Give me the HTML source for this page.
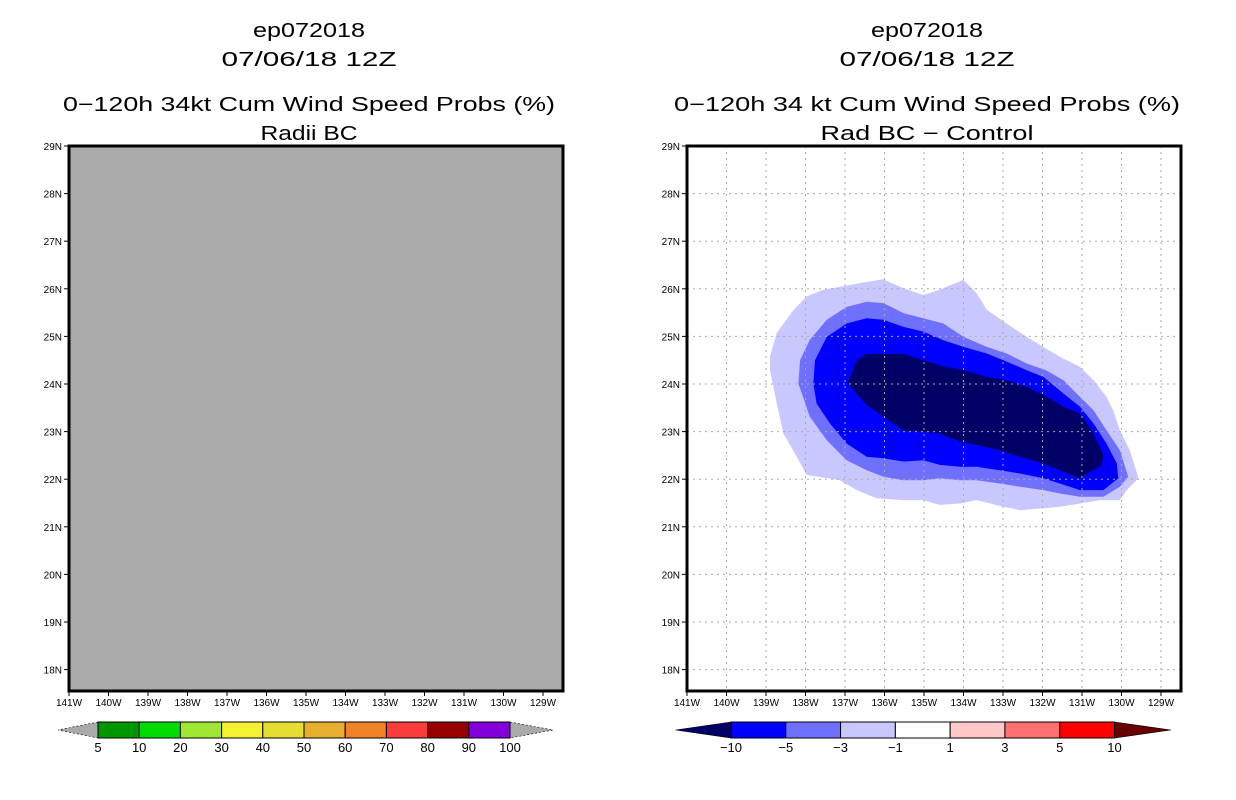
<!DOCTYPE html>
<html><head><meta charset="utf-8"><style>
html,body{margin:0;padding:0;background:#fff;}
svg{display:block;font-family:"Liberation Sans",sans-serif;}
</style></head><body>
<svg id="chart" width="1236" height="800" viewBox="0 0 1236 800" xmlns="http://www.w3.org/2000/svg"></svg>
<script>
const lonTicks=[-141,-140,-139,-138,-137,-136,-135,-134,-133,-132,-131,-130,-129];
const latTicks=[18,19,20,21,22,23,24,25,26,27,28,29];
const leftLevels=[5,10,20,30,40,50,60,70,80,90,100];
const leftColors=["#009600","#00dc00","#a0e632","#f5f032","#e6dc32","#e6af2d","#f08228","#fa3c3c","#960000","#8200dc"];
const rightLevels=[-10,-5,-3,-1,1,3,5,10];
const rightColors=["#0000ff","#7070ff","#c8c8ff","#ffffff","#ffc8c8","#ff7070","#ff0000"];
const contourLight=[[-138.90,24.57],[-138.73,25.07],[-138.31,25.55],[-137.97,25.84],[-137.55,25.98],[-136.62,26.12],[-136.03,26.20],[-135.52,26.01],[-135.02,25.87],[-134.60,25.98],[-134.00,26.19],[-133.67,25.91],[-133.41,25.56],[-132.91,25.27],[-132.40,24.99],[-131.98,24.78],[-131.56,24.57],[-131.05,24.36],[-130.71,24.08],[-130.38,23.73],[-130.21,23.45],[-130.04,23.03],[-129.79,22.61],[-129.57,22.02],[-129.87,21.77],[-130.04,21.56],[-130.54,21.56],[-131.05,21.49],[-131.56,21.42],[-131.98,21.39],[-132.57,21.35],[-132.99,21.42],[-133.67,21.56],[-134.09,21.49],[-134.60,21.46],[-135.02,21.56],[-135.52,21.56],[-136.20,21.60],[-136.70,21.77],[-137.13,21.98],[-137.97,22.09],[-138.22,22.47],[-138.56,22.96],[-138.73,23.60],[-138.90,24.30]];
const contourMid=[[-138.14,24.50],[-137.89,24.93],[-137.46,25.35],[-136.96,25.62],[-136.45,25.73],[-136.03,25.70],[-135.52,25.49],[-135.02,25.38],[-134.51,25.27],[-134.00,24.99],[-133.41,24.78],[-132.91,24.64],[-132.40,24.43],[-131.91,24.29],[-131.47,24.08],[-131.05,23.73],[-130.71,23.45],[-130.38,23.03],[-130.04,22.61],[-129.83,22.05],[-130.04,21.84],[-130.46,21.63],[-131.05,21.63],[-131.56,21.70],[-131.98,21.77],[-132.57,21.84],[-133.08,21.91],[-133.67,21.98],[-134.09,21.98],[-134.60,22.02],[-135.02,21.98],[-135.52,21.98],[-136.03,22.05],[-136.45,22.19],[-136.96,22.40],[-137.46,22.82],[-137.89,23.31],[-138.18,24.01]];
const contourBlue=[[-137.80,24.01],[-137.76,24.50],[-137.46,24.99],[-136.96,25.27],[-136.45,25.38],[-136.03,25.35],[-135.52,25.20],[-135.02,25.10],[-134.51,24.92],[-134.00,24.78],[-133.41,24.64],[-132.91,24.47],[-132.40,24.29],[-131.98,24.15],[-131.47,23.80],[-131.05,23.52],[-130.71,23.17],[-130.38,22.75],[-130.12,22.33],[-130.08,22.02],[-130.46,21.77],[-131.05,21.77],[-131.56,21.91],[-131.98,22.02],[-132.57,22.12],[-133.08,22.19],[-133.67,22.26],[-134.09,22.26],[-134.60,22.30],[-135.02,22.40],[-135.52,22.37],[-136.03,22.44],[-136.45,22.47],[-136.96,22.75],[-137.38,23.17],[-137.72,23.59]];
const contourNavy=[[-136.94,24.01],[-136.70,24.50],[-136.45,24.63],[-135.52,24.63],[-135.02,24.50],[-134.51,24.37],[-134.00,24.29],[-133.41,24.15],[-132.91,24.08],[-132.40,23.94],[-131.98,23.77],[-131.47,23.52],[-131.05,23.38],[-130.71,22.96],[-130.46,22.51],[-130.50,22.30],[-131.05,22.02],[-131.56,22.19],[-131.98,22.33],[-132.57,22.47],[-133.08,22.61],[-133.67,22.72],[-134.09,22.79],[-134.60,22.96],[-135.02,23.00],[-135.52,23.03],[-136.03,23.31],[-136.45,23.56]];

const NS="http://www.w3.org/2000/svg";
const svg=document.getElementById('chart');
function mk(tag,attrs,parent){const e=document.createElementNS(NS,tag);for(const k in attrs)e.setAttribute(k,attrs[k]);(parent||svg).appendChild(e);return e;}
const FL=69,FT=146,FR=563,FB=691;
const PX=39.5,PY=47.6;
function xS(off,lon){return FL+off+(lon+141)*PX;}
function yS(lat){return FT+(29-lat)*PY;}
function txt(x,y,s,size,anchor,name,tl,parent){const t=mk('text',{x:x,y:y,'font-size':size,'text-anchor':anchor||'middle',fill:'#000'},parent);if(tl){t.setAttribute('textLength',tl);t.setAttribute('lengthAdjust','spacingAndGlyphs');}t.textContent=s;return t;}

function panel(off,side,titles){
  const g=mk('g',{});
  
  
  const cx=(FL+FR)/2+off-7;
  txt(cx,37,titles[0],20,'middle',side+'-storm-id',112,g);
  txt(cx,66,titles[1],20,'middle',side+'-date',175,g);
  txt(cx,111,titles[2],20,'middle',side+'-title',titles[3],g);
  txt(cx,140,titles[4],20,'middle',side+'-subtitle',titles[5],g);
  return g;
}
function axes(off,g,side,grid){
  if(grid){
    lonTicks.slice(1).forEach(l=>{const ln=mk('line',{x1:xS(off,l),x2:xS(off,l),y1:FT,y2:FB,stroke:'#aaa','stroke-width':1,'stroke-dasharray':'2,4'},g);});
    latTicks.slice(0,-1).forEach(l=>{const ln=mk('line',{x1:FL+off,x2:FR+off,y1:yS(l),y2:yS(l),stroke:'#aaa','stroke-width':1,'stroke-dasharray':'2,4'},g);});
  }
  lonTicks.forEach(l=>{const x=xS(off,l);mk('line',{x1:x,x2:x,y1:FB,y2:FB+5,stroke:'#000'},g);
    txt(x,FB+15,Math.abs(l)+'W',10,'middle',side+'-x-tick-label',null,g);});
  latTicks.forEach(l=>{const y=yS(l);mk('line',{x1:FL+off-5,x2:FL+off,y1:y,y2:y,stroke:'#000'},g);
    txt(FL+off-7,y+4,l+'N',10,'end',side+'-y-tick-label',null,g);});
  const fr=mk('rect',{x:FL+off,y:FT,width:FR-FL,height:FB-FT,fill:'none',stroke:'#000','stroke-width':3},g);
  
}
function colorbar(g,side,levels,colors,x0,x1,tipL,tipR,lowCol,highCol){
  const n=colors.length,w=(x1-x0)/n,yT=722,yB=738,ym=730;
  const cb=mk('g',{},g);
  const a=mk('polygon',{points:`${x0},${yT} ${tipL},${ym} ${x0},${yB}`,fill:lowCol,stroke:'#000','stroke-width':0.6,'stroke-dasharray':lowCol=='#aaaaaa'?'2,2':'none'},cb);
  
  const b=mk('polygon',{points:`${x1},${yT} ${tipR},${ym} ${x1},${yB}`,fill:highCol,stroke:'#000','stroke-width':0.6,'stroke-dasharray':highCol=='#aaaaaa'?'2,2':'none'},cb);
  
  colors.forEach((c,i)=>{const r=mk('rect',{x:x0+i*w,y:yT,width:w,height:yB-yT,fill:c,stroke:'#000','stroke-width':1},cb);
    });
  levels.forEach((v,i)=>{txt(x0+i*w,752,String(v).replace('-','\u2212'),13,'middle','colorbar-label',null,cb);});
}
// Left panel
const gl=panel(0,'left',['ep072018','07/06/18 12Z','0\u2212120h 34kt Cum Wind Speed Probs (%)',492,'Radii BC',97]);
const bg=mk('rect',{x:FL,y:FT,width:FR-FL,height:FB-FT,fill:'#aaaaaa'},gl);

axes(0,gl,'left',false);
colorbar(gl,'left',leftLevels,leftColors,98,510,58,553,'#aaaaaa','#aaaaaa');
// Right panel
const OFF=618;
const gr=panel(OFF,'right',['ep072018','07/06/18 12Z','0\u2212120h 34 kt Cum Wind Speed Probs (%)',506,'Rad BC \u2212 Control',213]);
const clip=mk('clipPath',{id:'rc'},gr);mk('rect',{x:FL+OFF,y:FT,width:FR-FL,height:FB-FT},clip);
const cg=mk('g',{'clip-path':'url(#rc)'},gr);

[[contourLight,'#c8c8ff','contour-minus1-to-minus3'],[contourMid,'#7070ff','contour-minus3-to-minus5'],[contourBlue,'#0000ff','contour-minus5-to-minus10'],[contourNavy,'#000066','contour-below-minus10']].forEach(([pts,col,nm])=>{
  const p=mk('polygon',{points:pts.map(q=>xS(OFF,q[0]).toFixed(1)+','+yS(q[1]).toFixed(1)).join(' '),fill:col},cg);
  
});
axes(OFF,gr,'right',true);
colorbar(gr,'right',rightLevels,rightColors,731,1114.5,675.5,1171,'#000066','#660000');
</script>
</body></html>
